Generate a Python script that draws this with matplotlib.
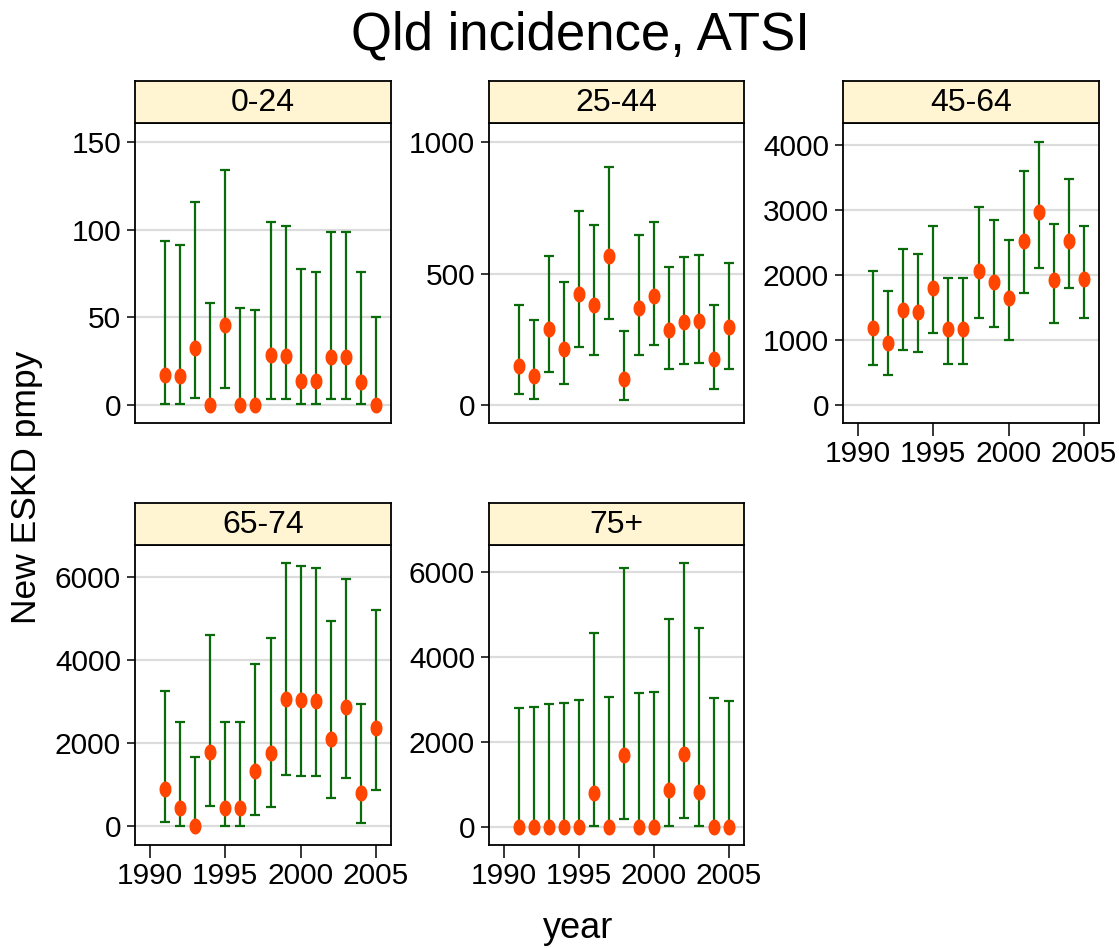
import matplotlib
matplotlib.use("Agg")
import matplotlib.pyplot as plt
import numpy as np

plt.rcParams['font.family'] = ['Liberation Sans', 'DejaVu Sans']

years = list(range(1991, 2006))

# rate per million per year, with lower / upper confidence limits
rate_0_24 = [17, 16.7, 32.3, 0, 45.8, 0, 0, 28.5, 28.1, 13.9, 13.5, 27.5, 27.2, 13.3, 0]
lo_0_24 = [0.8, 0.8, 4.0, 0, 9.5, 0, 0, 3.6, 3.6, 0.8, 0.8, 3.6, 3.6, 0.8, 0]
hi_0_24 = [93.6, 91.3, 115.6, 57.9, 134, 55.3, 54.3, 104.4, 102.1, 77.7, 75.9, 98.7, 98.7, 75.9, 50.3]

rate_25_44 = [147, 109, 289, 215, 421, 382, 567, 99, 370, 413, 286, 315, 319, 175, 297]
lo_25_44 = [42, 23, 124, 81, 219, 191, 329, 19, 191, 228, 137, 157, 160, 63, 139]
hi_25_44 = [380, 324, 568, 468, 738, 685, 906, 282, 646, 696, 523, 563, 572, 382, 540]

rate_45_64 = [1186, 950, 1469, 1433, 1807, 1166, 1166, 2064, 1890, 1648, 2521, 2973, 1926, 2521, 1946]
lo_45_64 = [611, 462, 842, 816, 1109, 637, 637, 1345, 1202, 1006, 1730, 2110, 1263, 1797, 1335]
hi_45_64 = [2069, 1761, 2398, 2321, 2763, 1961, 1961, 3050, 2845, 2537, 3600, 4057, 2793, 3487, 2763]

rate_65_74 = [892, 442, 0, 1783, 442, 442, 1341, 1775, 3060, 3044, 3020, 2104, 2884, 811, 2378]
lo_65_74 = [96, 0, 0, 490, 0, 0, 281, 466, 1229, 1213, 1213, 675, 1173, 88, 867]
hi_65_74 = [3253, 2514, 1663, 4602, 2514, 2514, 3920, 4546, 6337, 6281, 6217, 4940, 5960, 2948, 5213]

rate_75 = [0, 0, 0, 0, 0, 811, 0, 1685, 0, 0, 874, 1709, 835, 0, 0]
lo_75 = [0, 0, 0, 0, 0, 24, 0, 189, 0, 0, 24, 213, 24, 0, 0]
hi_75 = [2803, 2835, 2890, 2929, 2984, 4575, 3063, 6094, 3150, 3189, 4906, 6213, 4685, 3031, 2961]

groups = ['0-24', '25-44', '45-64', '65-74', '75+']
rates = [rate_0_24, rate_25_44, rate_45_64, rate_65_74, rate_75]
lows = [lo_0_24, lo_25_44, lo_45_64, lo_65_74, lo_75]
highs = [hi_0_24, hi_25_44, hi_45_64, hi_65_74, hi_75]
yticks = [[0, 50, 100, 150], [0, 500, 1000], [0, 1000, 2000, 3000, 4000],
          [0, 2000, 4000, 6000], [0, 2000, 4000, 6000]]
ylims = [(-10.3, 160.8), (-68, 1072), (-277, 4345), (-450, 6778), (-425, 6645)]
show_x = [False, False, True, True, True]

W, H = 1119, 948
fig = plt.figure(figsize=(W / 100, H / 100), dpi=100)

# panel boxes in pixels: left, top, right, bottom
boxes = [(135, 123, 391, 423), (489, 123, 744, 423), (843, 123, 1099, 423),
         (135, 545, 391, 845), (489, 545, 744, 845)]
strip_h = 42

# tall ellipse used as the point marker
t = np.linspace(0, 2 * np.pi, 60)
ellipse = list(zip(0.75 * np.cos(t), np.sin(t)))

for i, (l, tp, r, b) in enumerate(boxes):
    ax = fig.add_axes([l / W, 1 - b / H, (r - l) / W, (b - tp) / H])
    rate = np.array(rates[i])
    lo = np.array(lows[i])
    hi = np.array(highs[i])
    ax.errorbar(years, rate, yerr=[rate - lo, hi - rate], fmt='none',
                ecolor='#0a6b0a', elinewidth=1.6, capsize=3.5, capthick=1.6, zorder=2)
    ax.plot(years, rate, linestyle='none', marker=ellipse, markersize=11.5,
            color='#ff4500', markeredgewidth=0, zorder=3)
    ax.set_xlim(1989, 2006)
    ax.set_ylim(*ylims[i])
    ax.set_yticks(yticks[i])
    ax.set_yticklabels([str(v) for v in yticks[i]])
    for v in yticks[i]:
        ax.axhline(v, color='#dcdcdc', lw=1.6, zorder=1)
    ax.tick_params(axis='y', direction='out', length=6, width=1.1, labelsize=21.5, pad=4)
    if show_x[i]:
        ax.set_xticks([1990, 1995, 2000, 2005])
        ax.tick_params(axis='x', direction='out', length=9, width=1.1, labelsize=21.5, pad=3)
    else:
        ax.set_xticks([])
    for s in ax.spines.values():
        s.set_linewidth(1.3)

    sax = fig.add_axes([l / W, 1 - tp / H, (r - l) / W, strip_h / H])
    sax.set_facecolor('#fff5d2')
    sax.set_xticks([])
    sax.set_yticks([])
    for s in sax.spines.values():
        s.set_linewidth(1.3)
    sax.text(0.5, 0.48, groups[i], ha='center', va='center', fontsize=23,
             transform=sax.transAxes)

fig.text(580 / W, 1 - 36 / H, 'Qld incidence, ATSI', ha='center', va='center', fontsize=38)
fig.text(27 / W, 1 - 487 / H, 'New ESKD pmpy', ha='center', va='center',
         rotation=90, fontsize=25.5)
fig.text(578 / W, 1 - 929 / H, 'year', ha='center', va='center', fontsize=26)

fig.savefig('out.png', dpi=100)
